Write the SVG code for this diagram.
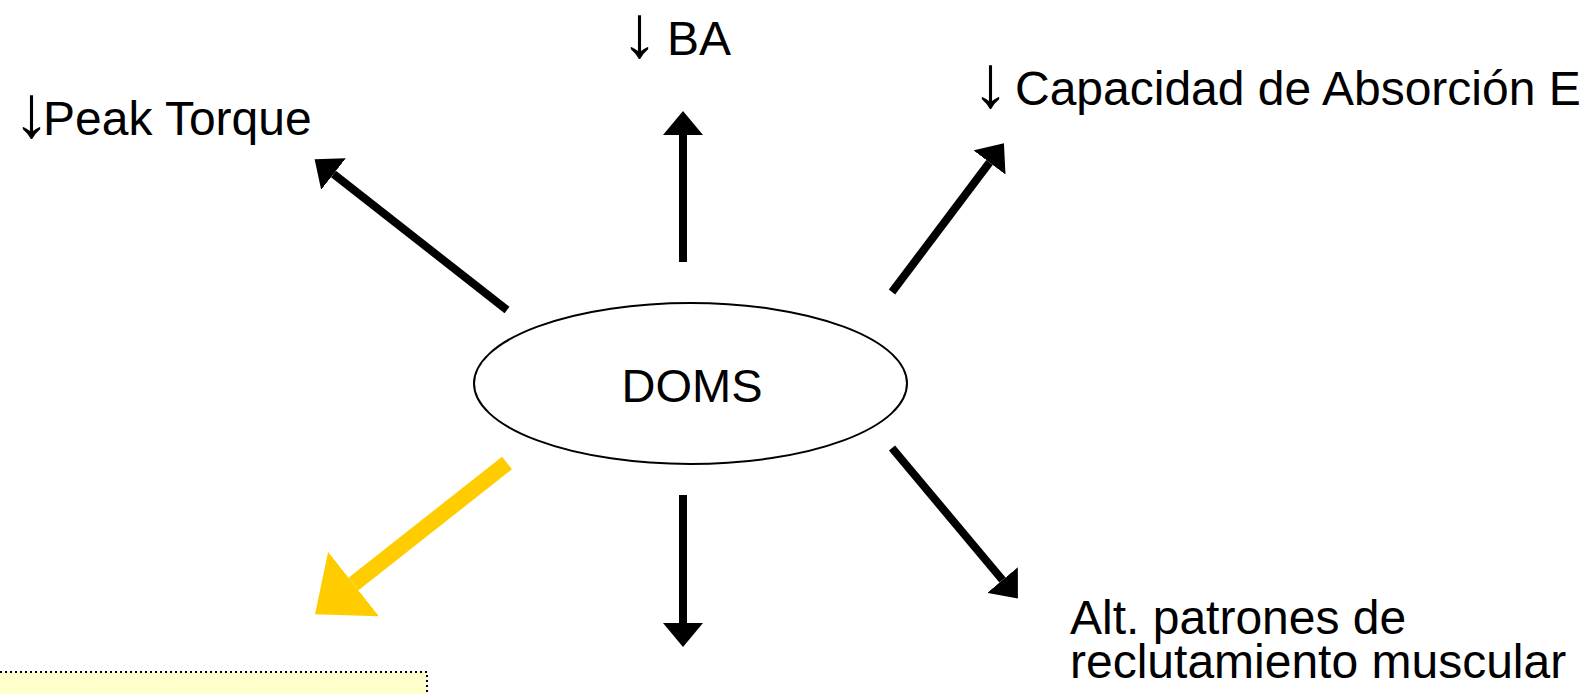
<svg xmlns="http://www.w3.org/2000/svg" width="1586" height="694" viewBox="0 0 1586 694">
<style>
.t{font-family:"Liberation Sans",Arial,sans-serif;font-size:48px;fill:#000}
.ar{font-size:74px}
.c{stroke:#000;stroke-width:8;fill:none}
.y{stroke:#FFCC00;stroke-width:16;fill:none}
</style>
<defs>
<marker id="ah" markerUnits="userSpaceOnUse" viewBox="0 0 24 40" refX="0" refY="20" markerWidth="24" markerHeight="40" orient="auto">
<path d="M0,0 L24,20 L0,40 Z" fill="#000"/>
</marker>
<marker id="ahy" markerUnits="userSpaceOnUse" viewBox="0 0 49 82" refX="0" refY="41" markerWidth="49" markerHeight="82" orient="auto">
<path d="M0,0 L49,41 L0,82 Z" fill="#FFCC00"/>
</marker>
</defs>
<rect width="1586" height="694" fill="#fff"/>
<g id="note-box">
<rect x="-5" y="672" width="432" height="40" fill="#FFFFCC" stroke="#000" stroke-width="2" stroke-dasharray="2 3"/>
</g>
<g id="connectors">
<line class="c" x1="507" y1="310" x2="333.5" y2="174" marker-end="url(#ah)"/>
<line class="c" x1="683" y1="262" x2="683" y2="135" marker-end="url(#ah)"/>
<line class="c" x1="892" y1="292" x2="989.5" y2="162.5" marker-end="url(#ah)"/>
<line class="c" x1="892" y1="448" x2="1002.5" y2="580" marker-end="url(#ah)"/>
<line class="c" x1="683" y1="495" x2="683" y2="623" marker-end="url(#ah)"/>
<line class="y" x1="507" y1="463" x2="353.5" y2="584" marker-end="url(#ahy)"/>
</g>
<g id="doms">
<ellipse cx="690.5" cy="383.5" rx="216.5" ry="80.5" fill="#fff" stroke="#000" stroke-width="2"/>
<text class="t" x="692" y="402" text-anchor="middle" style="font-size:47px">DOMS</text>
</g>
<g id="peak-torque">
<text class="t" y="137"><tspan class="ar" x="13">↓</tspan><tspan x="43" y="135">Peak Torque</tspan></text>
</g>
<g id="ba">
<text class="t" y="57"><tspan class="ar" x="621">↓</tspan><tspan x="667" y="55">BA</tspan></text>
</g>
<g id="capacidad">
<text class="t" y="107"><tspan class="ar" x="972">↓</tspan><tspan x="1015" y="105">Capacidad de Absorción E</tspan></text>
</g>
<g id="alt-patrones">
<text class="t"><tspan x="1070" y="634">Alt. patrones de</tspan><tspan x="1070" y="678">reclutamiento muscular</tspan></text>
</g>
</svg>
